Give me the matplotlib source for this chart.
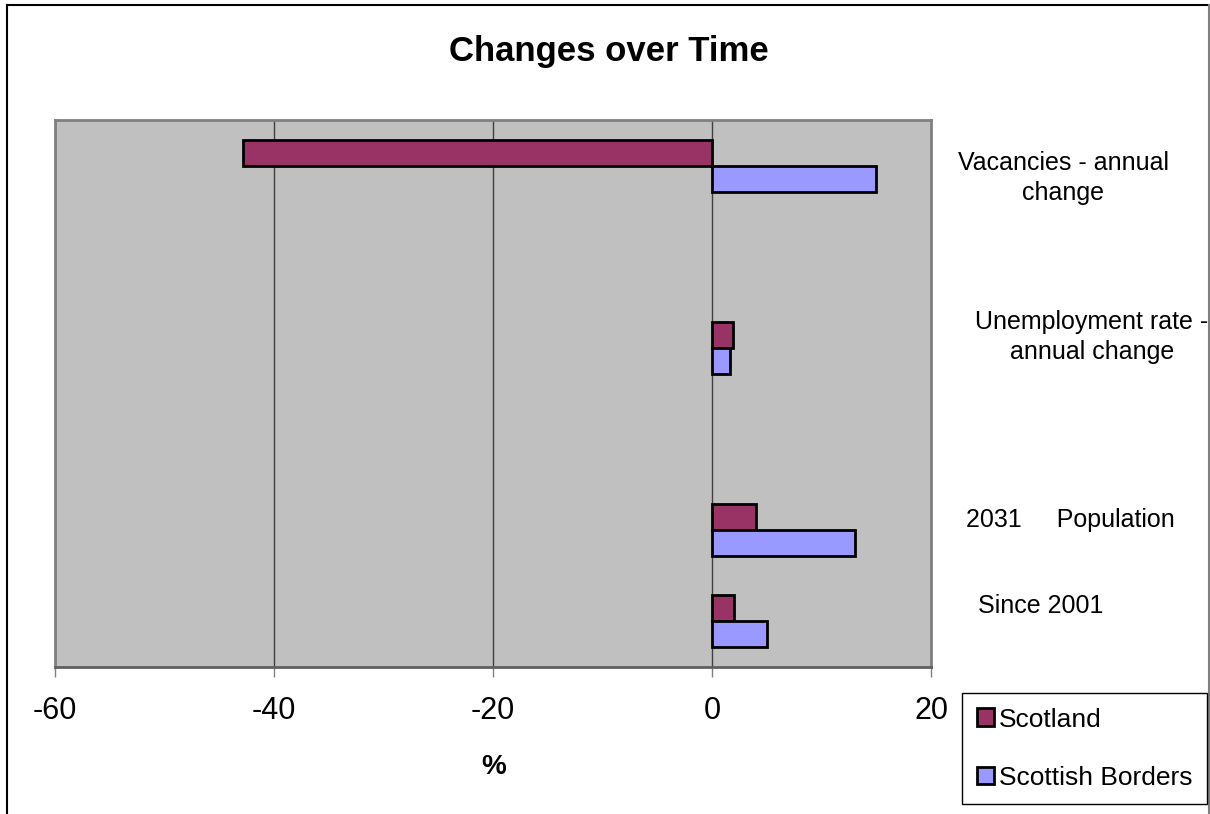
import numpy as np
import matplotlib
matplotlib.use("Agg")
import matplotlib.pyplot as plt
from matplotlib.lines import Line2D
from matplotlib.transforms import blended_transform_factory

plt.rcParams['font.family'] = ['Liberation Sans', 'DejaVu Sans']

# categories top to bottom, blanks are empty rows of the original sheet
categories = ["Vacancies - annual\nchange", "", "Unemployment rate -\nannual change", "",
              "2031     Population", "Since 2001"]
scotland = [-42.8, np.nan, 1.9, np.nan, 4.0, 2.0]
borders = [15, np.nan, 1.6, np.nan, 13.1, 5.0]
series_names = ["Scotland", "Scottish Borders"]
xticks = [-60, -40, -20, 0, 20]

SCOT_COLOR = '#993366'
BORD_COLOR = '#9999FF'

# where the category text sits (offset in rows, x in figure pixels)
label_dy = [0.14, 0, -0.12, 0, -0.11, -0.17]
label_x = [1063, 0, 1092, 0, 1070, 1041]

W, H = 1210, 814
dpi = 100
fig = plt.figure(figsize=(W / dpi, H / dpi), dpi=dpi)
ax = fig.add_axes([55 / W, 1 - 667 / H, (931 - 55) / W, (667 - 120) / H])
ax.set_facecolor('#C0C0C0')

ypos = np.arange(len(categories))
bar_h = 0.285
sc = np.array(scotland, dtype=float)
bo = np.array(borders, dtype=float)
mask = ~np.isnan(sc)
ax.barh(ypos[mask] - bar_h / 2, sc[mask], height=bar_h, color=SCOT_COLOR,
        edgecolor='black', linewidth=2, label=series_names[0], zorder=3)
ax.barh(ypos[mask] + bar_h / 2, bo[mask], height=bar_h, color=BORD_COLOR,
        edgecolor='black', linewidth=2, label=series_names[1], zorder=3)

ax.set_ylim(len(categories) - 0.5, -0.5)
ax.set_xlim(-60, 20)
ax.set_xticks(xticks)
ax.set_xticklabels([str(t) for t in xticks], fontsize=22)
ax.tick_params(axis='x', direction='out', length=7, width=1, color='#808080', pad=14)
ax.set_yticks([])
ax.xaxis.grid(True, color='#404040', linewidth=1)
ax.set_axisbelow(True)
for s in ax.spines.values():
    s.set_color('#808080')
    s.set_linewidth(2)
ax.spines['bottom'].set_color('#606060')

trans = blended_transform_factory(fig.transFigure, ax.transData)
for i, lab in enumerate(categories):
    if lab:
        ax.text(label_x[i] / W, i + label_dy[i], lab, transform=trans,
                ha='center', va='center', fontsize=18, multialignment='center',
                linespacing=1.3, clip_on=False)

fig.text(494 / W, 1 - 767 / H, '%', ha='center', va='center', fontsize=20, fontweight='bold')
fig.text(609 / W, 1 - 52 / H, 'Changes over Time', ha='center', va='center', fontsize=25, fontweight='bold')

leg = fig.legend(loc='upper left', bbox_to_anchor=(962 / W, 1 - 693 / H), fontsize=19,
                 frameon=True, fancybox=False, edgecolor='black', framealpha=1,
                 handlelength=0.65, handleheight=0.65, handletextpad=0.2,
                 labelspacing=1.3, borderpad=0.55, borderaxespad=0)
leg.get_frame().set_linewidth(1)

# outer chart border (bottom edge is cut off in the original)
fig.add_artist(Line2D([7 / W, 7 / W], [0, 1 - 5 / H], color='black', linewidth=1.5, transform=fig.transFigure))
fig.add_artist(Line2D([7 / W, 1209 / W], [1 - 5 / H, 1 - 5 / H], color='black', linewidth=1.5, transform=fig.transFigure))
fig.add_artist(Line2D([1209 / W, 1209 / W], [0, 1 - 5 / H], color='#808080', linewidth=1.5, transform=fig.transFigure))

fig.savefig('out.png', dpi=dpi)
